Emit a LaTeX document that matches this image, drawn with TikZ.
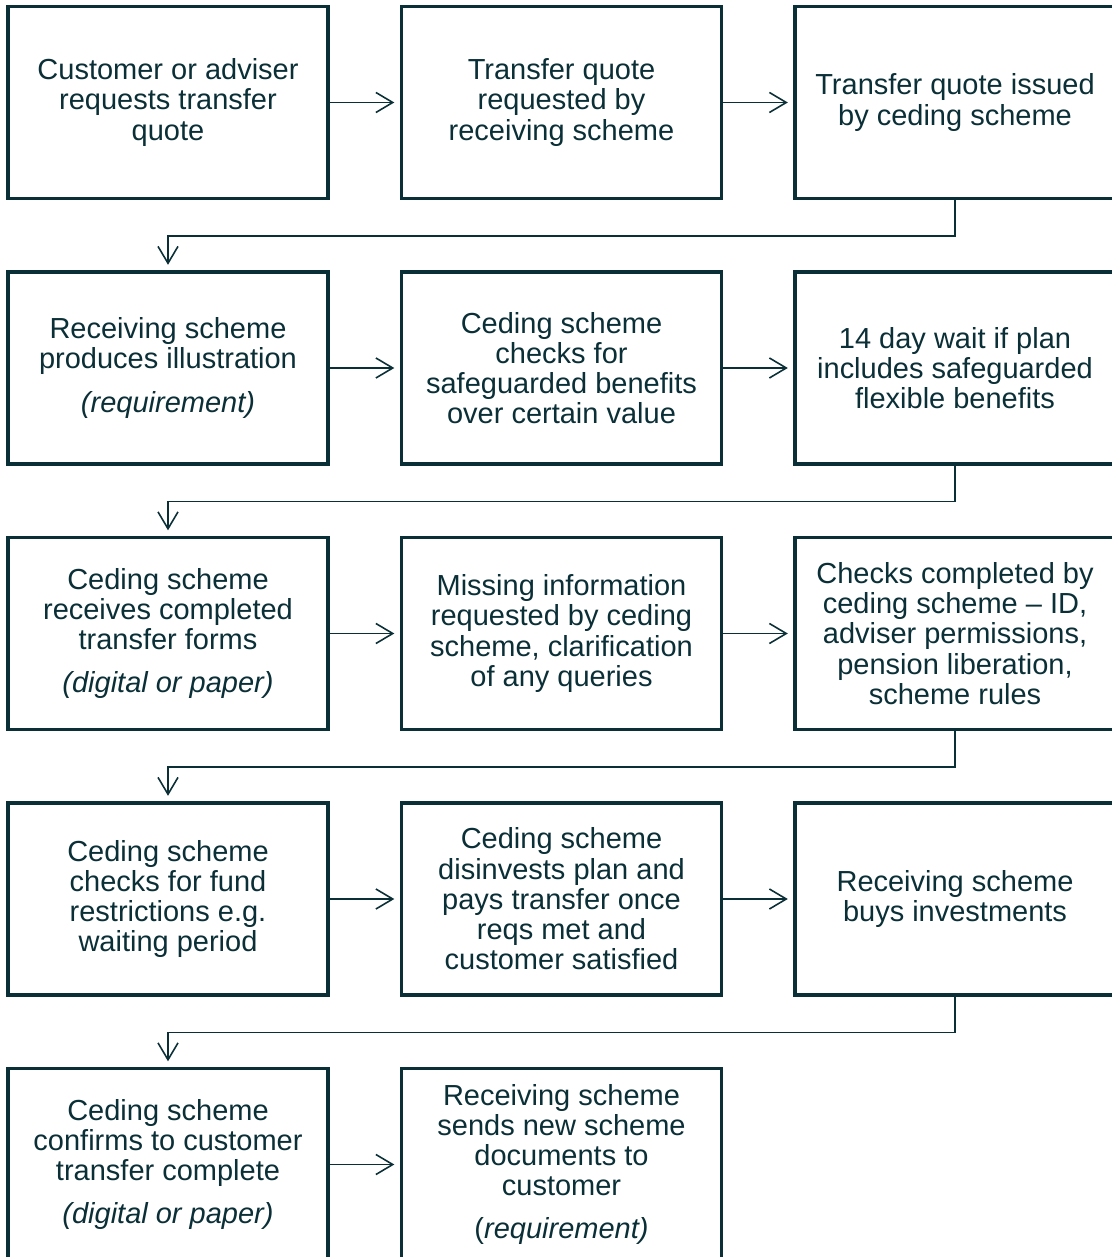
\documentclass[tikz,border=0pt]{standalone}
\usepackage{fontspec}
\setmainfont{Liberation Sans}
\usetikzlibrary{arrows.meta}
\definecolor{ink}{HTML}{0B2F37}

\begin{document}
\begin{tikzpicture}[
    stage/.style={draw=ink,line width=0.9pt,text=ink,minimum width=3.2cm,minimum height=1.92cm,
      align=center,font=\fontsize{8.25pt}{8.6pt}\selectfont,inner sep=0pt},
    link/.style={draw=ink,line width=0.45pt,shorten >=1.6pt,-{Straight Barb[length=4.8pt,width=5.7pt]}}
  ]
  \useasboundingbox (0,0) rectangle (11.11,-12.57);

  % Row 1
  \node[stage] (custreq) at (1.68,-1.025) {Customer or adviser\\requests transfer\\quote};
  \node[stage] (recvreq) at (5.615,-1.025) {Transfer quote\\requested by\\receiving scheme};
  \node[stage] (issued) at (9.55,-1.025) {Transfer quote issued\\by ceding scheme};

  % Row 2
  \node[stage] (illus) at (1.68,-3.68) {Receiving scheme\\produces illustration\\[3.7pt]\textit{(requirement)}};
  \node[stage] (safecheck) at (5.615,-3.68) {Ceding scheme\\checks for\\safeguarded benefits\\over certain value};
  \node[stage] (wait) at (9.55,-3.68) {14 day wait if plan\\includes safeguarded\\flexible benefits};

  % Row 3
  \node[stage] (forms) at (1.68,-6.335) {Ceding scheme\\receives completed\\transfer forms\\[3.7pt]\textit{(digital or paper)}};
  \node[stage] (missing) at (5.615,-6.335) {Missing information\\requested by ceding\\scheme, clarification\\of any queries};
  \node[stage] (checks) at (9.55,-6.335) {Checks completed by\\ceding scheme -- ID,\\adviser permissions,\\pension liberation,\\scheme rules};

  % Row 4
  \node[stage] (fundcheck) at (1.68,-8.99) {Ceding scheme\\checks for fund\\restrictions e.g.\\waiting period};
  \node[stage] (disinvest) at (5.615,-8.99) {Ceding scheme\\disinvests plan and\\pays transfer once\\reqs met and\\customer satisfied};
  \node[stage] (buyinv) at (9.55,-8.99) {Receiving scheme\\buys investments};

  % Row 5
  \node[stage] (confirm) at (1.68,-11.645) {Ceding scheme\\confirms to customer\\transfer complete\\[3.7pt]\textit{(digital or paper)}};
  \node[stage] (newdocs) at (5.615,-11.645) {Receiving scheme\\sends new scheme\\documents to\\customer\\[3.7pt](\textit{requirement)}};

  % Arrows along each row
  \draw[link] (custreq.east) -- (recvreq.west);
  \draw[link] (recvreq.east) -- (issued.west);
  \draw[link] (illus.east) -- (safecheck.west);
  \draw[link] (safecheck.east) -- (wait.west);
  \draw[link] (forms.east) -- (missing.west);
  \draw[link] (missing.east) -- (checks.west);
  \draw[link] (fundcheck.east) -- (disinvest.west);
  \draw[link] (disinvest.east) -- (buyinv.west);
  \draw[link] (confirm.east) -- (newdocs.west);

  % Return arrows to the next row
  \draw[link] (issued.south) -- ++(0,-0.36) -| (illus.north);
  \draw[link] (wait.south) -- ++(0,-0.36) -| (forms.north);
  \draw[link] (checks.south) -- ++(0,-0.36) -| (fundcheck.north);
  \draw[link] (buyinv.south) -- ++(0,-0.36) -| (confirm.north);
\end{tikzpicture}
\end{document}
